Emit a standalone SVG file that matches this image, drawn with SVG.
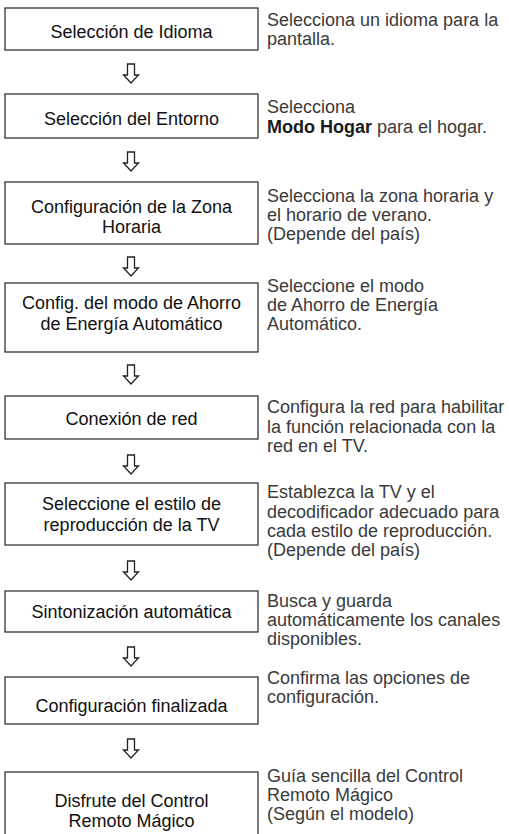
<svg xmlns="http://www.w3.org/2000/svg" width="509" height="834" viewBox="0 0 509 834">
<style>
.box{fill:#fff;stroke:#333;stroke-width:1.3}
.bt{font-family:"Liberation Sans",Arial,sans-serif;font-size:18px;fill:#111;text-anchor:middle}
.dt{font-family:"Liberation Sans",Arial,sans-serif;font-size:18px;fill:#3a3a3a}
.arr{fill:#fff;stroke:#222;stroke-width:1.3;stroke-linejoin:miter}
</style>
<defs>
<path id="ar" class="arr" d="M-3.5,0 V11 H-7.5 L0,19 L7.5,11 H3.5 V0 Z"/>
</defs>
<rect width="509" height="834" fill="#fff"/>
<g id="connectors">
<use href="#ar" x="131" y="64"/>
<use href="#ar" x="131" y="152"/>
<use href="#ar" x="131" y="257"/>
<use href="#ar" x="131" y="365"/>
<use href="#ar" x="131" y="455"/>
<use href="#ar" x="131" y="561"/>
<use href="#ar" x="131" y="647"/>
<use href="#ar" x="131" y="739"/>
</g>
<g id="n1">
<rect class="box" x="5" y="8" width="253" height="42"/>
<text class="bt" x="131.5" y="37.5">Selección de Idioma</text>
<text class="dt" x="267" y="25.7">Selecciona un idioma para la<tspan x="267" y="45">pantalla.</tspan></text>
</g>
<g id="n2">
<rect class="box" x="5" y="94" width="253" height="44"/>
<text class="bt" x="131.5" y="125">Selección del Entorno</text>
<text class="dt" x="267" y="113.3">Selecciona<tspan x="267" y="132.7"><tspan font-weight="bold" fill="#1a1a1a">Modo Hogar</tspan> para el hogar.</tspan></text>
</g>
<g id="n3">
<rect class="box" x="5" y="182" width="253" height="62"/>
<text class="bt" x="131.5" y="212.7">Configuración de la Zona<tspan x="131.5" y="233.3">Horaria</tspan></text>
<text class="dt" x="267" y="201.7">Selecciona la zona horaria y<tspan x="267" y="221">el horario de verano.</tspan><tspan x="267" y="240.3">(Depende del país)</tspan></text>
</g>
<g id="n4">
<rect class="box" x="5" y="283" width="253" height="69"/>
<text class="bt" x="131.5" y="309.3">Config. del modo de Ahorro<tspan x="131.5" y="330">de Energía Automático</tspan></text>
<text class="dt" x="267" y="291.7">Seleccione el modo<tspan x="267" y="311">de Ahorro de Energía</tspan><tspan x="267" y="330.3">Automático.</tspan></text>
</g>
<g id="n5">
<rect class="box" x="5" y="396" width="253" height="43"/>
<text class="bt" x="131.5" y="425">Conexión de red</text>
<text class="dt" x="267" y="413.3">Configura la red para habilitar<tspan x="267" y="432.7">la función relacionada con la</tspan><tspan x="267" y="451.7">red en el TV.</tspan></text>
</g>
<g id="n6">
<rect class="box" x="5" y="483" width="253" height="62"/>
<text class="bt" x="131.5" y="510">Seleccione el estilo de<tspan x="131.5" y="530.7">reproducción de la TV</tspan></text>
<text class="dt" x="267" y="498.3">Establezca la TV y el<tspan x="267" y="517.7">decodificador adecuado para</tspan><tspan x="267" y="536.7">cada estilo de reproducción.</tspan><tspan x="267" y="556">(Depende del país)</tspan></text>
</g>
<g id="n7">
<rect class="box" x="5" y="591" width="253" height="41"/>
<text class="bt" x="131.5" y="618.3">Sintonización automática</text>
<text class="dt" x="267" y="606.7">Busca y guarda<tspan x="267" y="626">automáticamente los canales</tspan><tspan x="267" y="645">disponibles.</tspan></text>
</g>
<g id="n8">
<rect class="box" x="5" y="677" width="253" height="47"/>
<text class="bt" x="131.5" y="711.7">Configuración finalizada</text>
<text class="dt" x="267" y="684.3">Confirma las opciones de<tspan x="267" y="703.3">configuración.</tspan></text>
</g>
<g id="n9">
<rect class="box" x="5" y="772" width="253" height="70"/>
<text class="bt" x="131.5" y="806.7">Disfrute del Control<tspan x="131.5" y="826.7">Remoto Mágico</tspan></text>
<text class="dt" x="267" y="781.7">Guía sencilla del Control<tspan x="267" y="801">Remoto Mágico</tspan><tspan x="267" y="820">(Según el modelo)</tspan></text>
</g>
</svg>
